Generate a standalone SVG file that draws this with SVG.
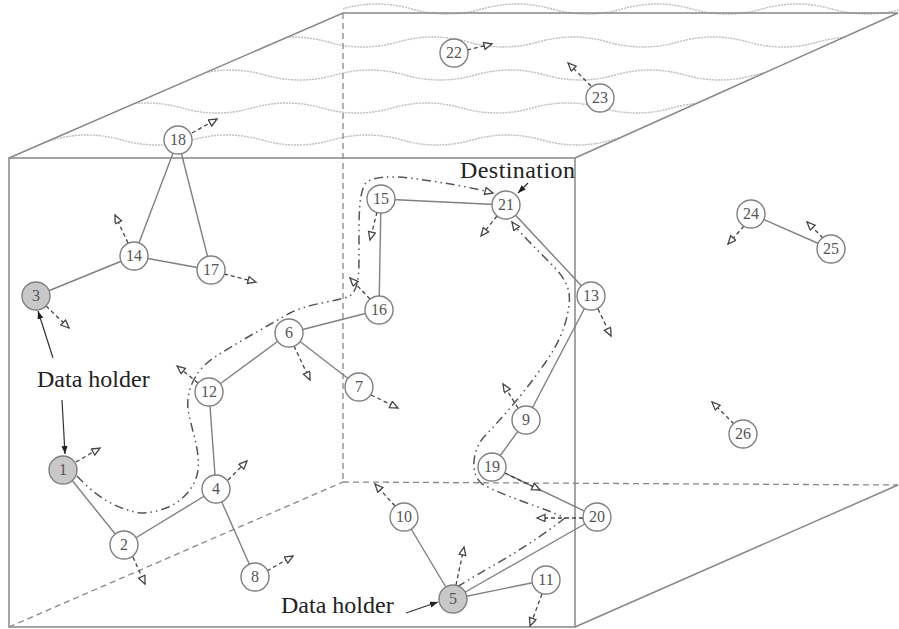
<svg xmlns="http://www.w3.org/2000/svg" width="899" height="629" viewBox="0 0 899 629">
<defs>
<style>
.cube{stroke:#888;stroke-width:1.5;fill:none}
.hid{stroke:#888;stroke-width:1.3;fill:none;stroke-dasharray:6 4}
.wave{stroke:#bdbdbd;stroke-width:1.4;fill:none;stroke-dasharray:2 1}
.edge{stroke:#808080;stroke-width:1.4;fill:none}
.mv{stroke:#444;stroke-width:1.3;fill:none;stroke-dasharray:4 3;marker-end:url(#open)}
.route2{stroke:#555;stroke-width:1.5;fill:none;stroke-dasharray:9 4 1.5 4 1.5 4;marker-end:url(#open)}
.ptr{stroke:#333;stroke-width:1.2;fill:none;marker-end:url(#solid)}
.node circle{fill:#fff;stroke:#808080;stroke-width:1.4}
.node.hold circle{fill:#c8c8c8}
.node text{font-family:"Liberation Serif",serif;font-size:16px;fill:#555;text-anchor:middle}
.lbl{font-family:"Liberation Serif",serif;font-size:24px;fill:#222}
</style>
<marker id="open" markerUnits="userSpaceOnUse" markerWidth="12" markerHeight="10" refX="9" refY="4" orient="auto">
<path d="M1,0.5 L9,4 L1,7.5 Z" fill="#fff" stroke="#444" stroke-width="1.3" stroke-dasharray="none"/>
</marker>
<marker id="solid" markerUnits="userSpaceOnUse" markerWidth="10" markerHeight="8" refX="8" refY="3" orient="auto">
<path d="M0,0 L8,3 L0,6 Z" fill="#222"/>
</marker>
<clipPath id="topface"><polygon points="9,158 343,13 343,0 899,0 899,13 575,158"/></clipPath>
</defs>

<g id="waves" clip-path="url(#topface)">
<path class="wave" d="M-78,9 q35,-10 70,0 t70,0 t70,0 t70,0 t70,0 t70,0 t70,0 t70,0 t70,0 t70,0 t70,0 t70,0 t70,0 t70,0 t70,0"/>
<path class="wave" d="M-22,42 q35,-10 70,0 t70,0 t70,0 t70,0 t70,0 t70,0 t70,0 t70,0 t70,0 t70,0 t70,0 t70,0 t70,0 t70,0 t70,0"/>
<path class="wave" d="M-85,75 q35,-10 70,0 t70,0 t70,0 t70,0 t70,0 t70,0 t70,0 t70,0 t70,0 t70,0 t70,0 t70,0 t70,0 t70,0 t70,0"/>
<path class="wave" d="M-28,108 q35,-10 70,0 t70,0 t70,0 t70,0 t70,0 t70,0 t70,0 t70,0 t70,0 t70,0 t70,0 t70,0 t70,0 t70,0 t70,0"/>
<path class="wave" d="M-88,140 q35,-10 70,0 t70,0 t70,0 t70,0 t70,0 t70,0 t70,0 t70,0 t70,0 t70,0 t70,0 t70,0 t70,0 t70,0 t70,0"/>
</g>

<g id="cube">
<line class="hid" x1="343" y1="13" x2="343" y2="482"/>
<line class="hid" x1="343" y1="482" x2="898" y2="485"/>
<line class="hid" x1="9" y1="627" x2="343" y2="482"/>
<polyline class="cube" points="9,158 343,13 898,13 575,158"/>
<rect class="cube" x="9" y="158" width="566" height="469"/>
<line class="cube" x1="575" y1="627" x2="898" y2="485"/>
</g>

<g id="connectors">
<line class="edge" x1="178" y1="140" x2="134" y2="256"/>
<line class="edge" x1="178" y1="140" x2="211" y2="270"/>
<line class="edge" x1="134" y1="256" x2="211" y2="270"/>
<line class="edge" x1="134" y1="256" x2="36" y2="296"/>
<line class="edge" x1="381" y1="199" x2="379" y2="310"/>
<line class="edge" x1="381" y1="199" x2="506" y2="205"/>
<line class="edge" x1="506" y1="205" x2="591" y2="296"/>
<line class="edge" x1="591" y1="296" x2="526" y2="420"/>
<line class="edge" x1="526" y1="420" x2="492" y2="467"/>
<line class="edge" x1="492" y1="467" x2="597" y2="517"/>
<line class="edge" x1="597" y1="517" x2="453" y2="599"/>
<line class="edge" x1="453" y1="599" x2="404" y2="517"/>
<line class="edge" x1="453" y1="599" x2="546" y2="580"/>
<line class="edge" x1="379" y1="310" x2="289" y2="333"/>
<line class="edge" x1="289" y1="333" x2="209" y2="392"/>
<line class="edge" x1="289" y1="333" x2="359" y2="387"/>
<line class="edge" x1="209" y1="392" x2="216" y2="489"/>
<line class="edge" x1="216" y1="489" x2="124" y2="545"/>
<line class="edge" x1="216" y1="489" x2="255" y2="577"/>
<line class="edge" x1="124" y1="545" x2="63" y2="469"/>
<line class="edge" x1="751" y1="214" x2="831" y2="249"/>

<path class="route2" d="M77,476 C90,490 110,508 140,513 C165,513 190,500 197,475 C202,455 192,432 188,410 C186,390 195,370 215,357 C235,344 260,330 290,313 C310,303 335,302 350,296 C360,288 359,270 359,240 C359,215 359,195 365,184 C372,176 390,176 410,178 C440,182 470,187 493,193"/>
<path class="route2" d="M457,587 C480,572 520,553 565,518 C545,508 505,497 482,484 C470,474 472,452 483,438 C500,420 520,398 540,370 C555,350 566,330 569,305 C571,290 566,280 555,268 C540,252 522,236 512,222"/>

<line class="mv" x1="192" y1="133" x2="217" y2="119"/>
<line class="mv" x1="467" y1="50" x2="492" y2="44"/>
<line class="mv" x1="591" y1="86" x2="568" y2="63"/>
<line class="mv" x1="128" y1="243" x2="115" y2="215"/>
<line class="mv" x1="224" y1="274" x2="256" y2="282"/>
<line class="mv" x1="46" y1="306" x2="69" y2="328"/>
<line class="mv" x1="377" y1="212" x2="370" y2="240"/>
<line class="mv" x1="497" y1="216" x2="481" y2="236"/>
<line class="mv" x1="370" y1="299" x2="350" y2="278"/>
<line class="mv" x1="598" y1="309" x2="611" y2="336"/>
<line class="mv" x1="744" y1="226" x2="728" y2="244"/>
<line class="mv" x1="823" y1="238" x2="807" y2="222"/>
<line class="mv" x1="734" y1="424" x2="712" y2="402"/>
<line class="mv" x1="294" y1="346" x2="310" y2="380"/>
<line class="mv" x1="198" y1="383" x2="177" y2="366"/>
<line class="mv" x1="371" y1="395" x2="398" y2="408"/>
<line class="mv" x1="76" y1="462" x2="100" y2="448"/>
<line class="mv" x1="228" y1="480" x2="247" y2="461"/>
<line class="mv" x1="133" y1="557" x2="145" y2="584"/>
<line class="mv" x1="267" y1="571" x2="293" y2="556"/>
<line class="mv" x1="518" y1="408" x2="503" y2="384"/>
<line class="mv" x1="505" y1="473" x2="540" y2="490"/>
<line class="mv" x1="395" y1="506" x2="375" y2="484"/>
<line class="mv" x1="583" y1="518" x2="537" y2="518"/>
<line class="mv" x1="456" y1="585" x2="464" y2="547"/>
<line class="mv" x1="542" y1="594" x2="530" y2="626"/>

<line class="ptr" x1="528" y1="183" x2="518" y2="193"/>
<line class="ptr" x1="53" y1="358" x2="38" y2="311"/>
<line class="ptr" x1="62" y1="400" x2="65" y2="454"/>
<line class="ptr" x1="406" y1="613" x2="438" y2="602"/>
</g>

<g id="n18" class="node"><circle cx="178" cy="140" r="14"/><text x="178" y="145">18</text></g>
<g id="n22" class="node"><circle cx="454" cy="53" r="14"/><text x="454" y="58">22</text></g>
<g id="n23" class="node"><circle cx="600" cy="98" r="14"/><text x="600" y="103">23</text></g>
<g id="n14" class="node"><circle cx="134" cy="256" r="14"/><text x="134" y="261">14</text></g>
<g id="n17" class="node"><circle cx="211" cy="270" r="14"/><text x="211" y="275">17</text></g>
<g id="n3" class="node hold"><circle cx="36" cy="296" r="14"/><text x="36" y="301">3</text></g>
<g id="n15" class="node"><circle cx="381" cy="199" r="14"/><text x="381" y="204">15</text></g>
<g id="n21" class="node"><circle cx="506" cy="205" r="14"/><text x="506" y="210">21</text></g>
<g id="n16" class="node"><circle cx="379" cy="310" r="14"/><text x="379" y="315">16</text></g>
<g id="n13" class="node"><circle cx="591" cy="296" r="14"/><text x="591" y="301">13</text></g>
<g id="n24" class="node"><circle cx="751" cy="214" r="14"/><text x="751" y="219">24</text></g>
<g id="n25" class="node"><circle cx="831" cy="249" r="14"/><text x="831" y="254">25</text></g>
<g id="n26" class="node"><circle cx="743" cy="434" r="14"/><text x="743" y="439">26</text></g>
<g id="n6" class="node"><circle cx="289" cy="333" r="14"/><text x="289" y="338">6</text></g>
<g id="n12" class="node"><circle cx="209" cy="392" r="14"/><text x="209" y="397">12</text></g>
<g id="n7" class="node"><circle cx="359" cy="387" r="14"/><text x="359" y="392">7</text></g>
<g id="n1" class="node hold"><circle cx="63" cy="470" r="14"/><text x="63" y="475">1</text></g>
<g id="n4" class="node"><circle cx="216" cy="489" r="14"/><text x="216" y="494">4</text></g>
<g id="n2" class="node"><circle cx="124" cy="545" r="14"/><text x="124" y="550">2</text></g>
<g id="n8" class="node"><circle cx="255" cy="577" r="14"/><text x="255" y="582">8</text></g>
<g id="n9" class="node"><circle cx="526" cy="420" r="14"/><text x="526" y="425">9</text></g>
<g id="n19" class="node"><circle cx="492" cy="467" r="14"/><text x="492" y="472">19</text></g>
<g id="n10" class="node"><circle cx="404" cy="517" r="14"/><text x="404" y="522">10</text></g>
<g id="n20" class="node"><circle cx="597" cy="517" r="14"/><text x="597" y="522">20</text></g>
<g id="n5" class="node hold"><circle cx="453" cy="599" r="14"/><text x="453" y="604">5</text></g>
<g id="n11" class="node"><circle cx="546" cy="580" r="14"/><text x="546" y="585">11</text></g>

<g id="labels">
<text class="lbl" x="460" y="178" textLength="115">Destination</text>
<text class="lbl" x="37" y="387">Data holder</text>
<text class="lbl" x="281" y="613">Data holder</text>
</g>
</svg>
